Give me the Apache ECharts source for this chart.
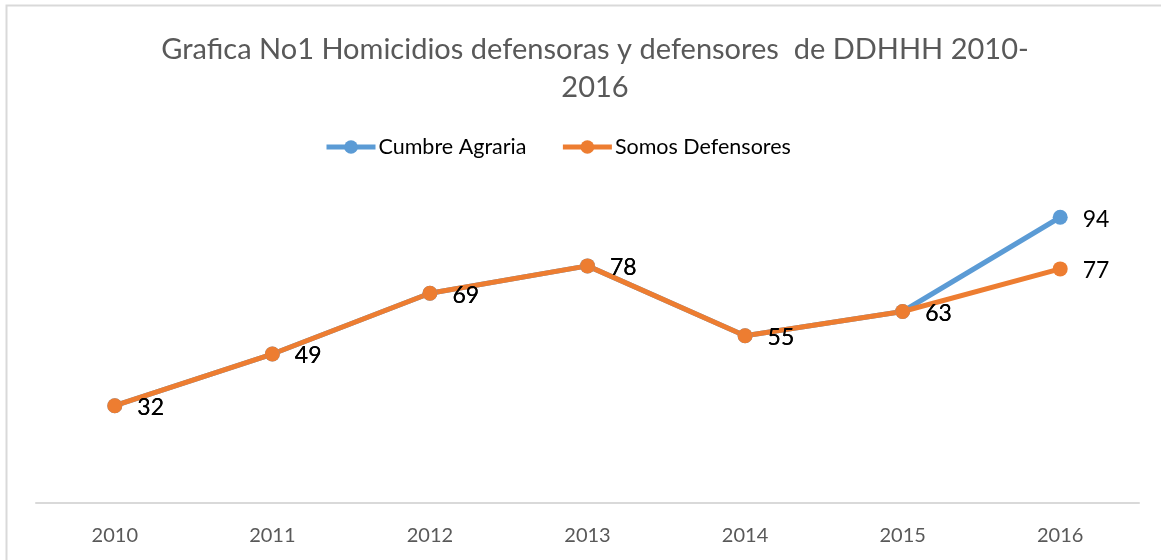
<!DOCTYPE html>
<html>
<head>
<meta charset="utf-8">
<script src="https://cdn.jsdelivr.net/npm/echarts@6/dist/echarts.min.js"></script>
<style>
  html, body { margin: 0; padding: 0; background: #fff; }
  #chart { width: 1161px; height: 560px; }
</style>
</head>
<body>
<div id="chart"></div>
<script>
const years = ["2010", "2011", "2012", "2013", "2014", "2015", "2016"];
const cumbreAgraria = [32, 49, 69, 78, 55, 63, 94];
const somosDefensores = [32, 49, 69, 78, 55, 63, 77];

const font = "Lato, 'Open Sans', sans-serif";
const labelStyle = {
  show: true,
  position: "right",
  distance: 15,
  color: "#000",
  fontSize: 23,
  fontFamily: font,
  offset: [0, 2]
};

const chart = echarts.init(document.getElementById("chart"));
chart.setOption({
  animation: false,
  title: {
    text: "Grafica No1 Homicidios defensoras y defensores  de DDHHH 2010-\n2016",
    left: 590,
    textAlign: "center",
    top: 26,
    textStyle: {
      color: "#595959",
      fontSize: 29,
      fontWeight: "normal",
      fontFamily: font,
      lineHeight: 38
    }
  },
  legend: {
    top: 131,
    left: 319,
    itemWidth: 49,
    itemHeight: 17,
    itemGap: 34,
    lineStyle: { width: 5 },
    textStyle: { color: "#000", fontSize: 21.5, fontFamily: font, padding: [0, 0, 0, -2] },
    data: ["Cumbre Agraria", "Somos Defensores"]
  },
  graphic: [{
    type: "rect",
    shape: { x: 6.5, y: 5.5, width: 1170, height: 570 },
    style: { fill: "none", stroke: "#d9d9d9", lineWidth: 2 },
    silent: true
  }],
  grid: { left: 36, right: 22, top: 199, bottom: 57 },
  xAxis: {
    type: "category",
    data: years,
    axisLine: { lineStyle: { color: "#d9d9d9", width: 2 } },
    axisTick: { show: false },
    axisLabel: { color: "#595959", fontSize: 20, fontFamily: font, margin: 23 }
  },
  yAxis: {
    type: "value",
    min: 0,
    max: 100,
    show: false
  },
  series: [
    {
      name: "Cumbre Agraria",
      type: "line",
      data: cumbreAgraria,
      symbol: "circle",
      symbolSize: 15,
      color: "#5B9BD5",
      lineStyle: { width: 5, color: "#5B9BD5" },
      label: labelStyle
    },
    {
      name: "Somos Defensores",
      type: "line",
      data: somosDefensores,
      symbol: "circle",
      symbolSize: 15,
      color: "#ED7D31",
      lineStyle: { width: 5, color: "#ED7D31" },
      label: labelStyle
    }
  ]
});
</script>
</body>
</html>
